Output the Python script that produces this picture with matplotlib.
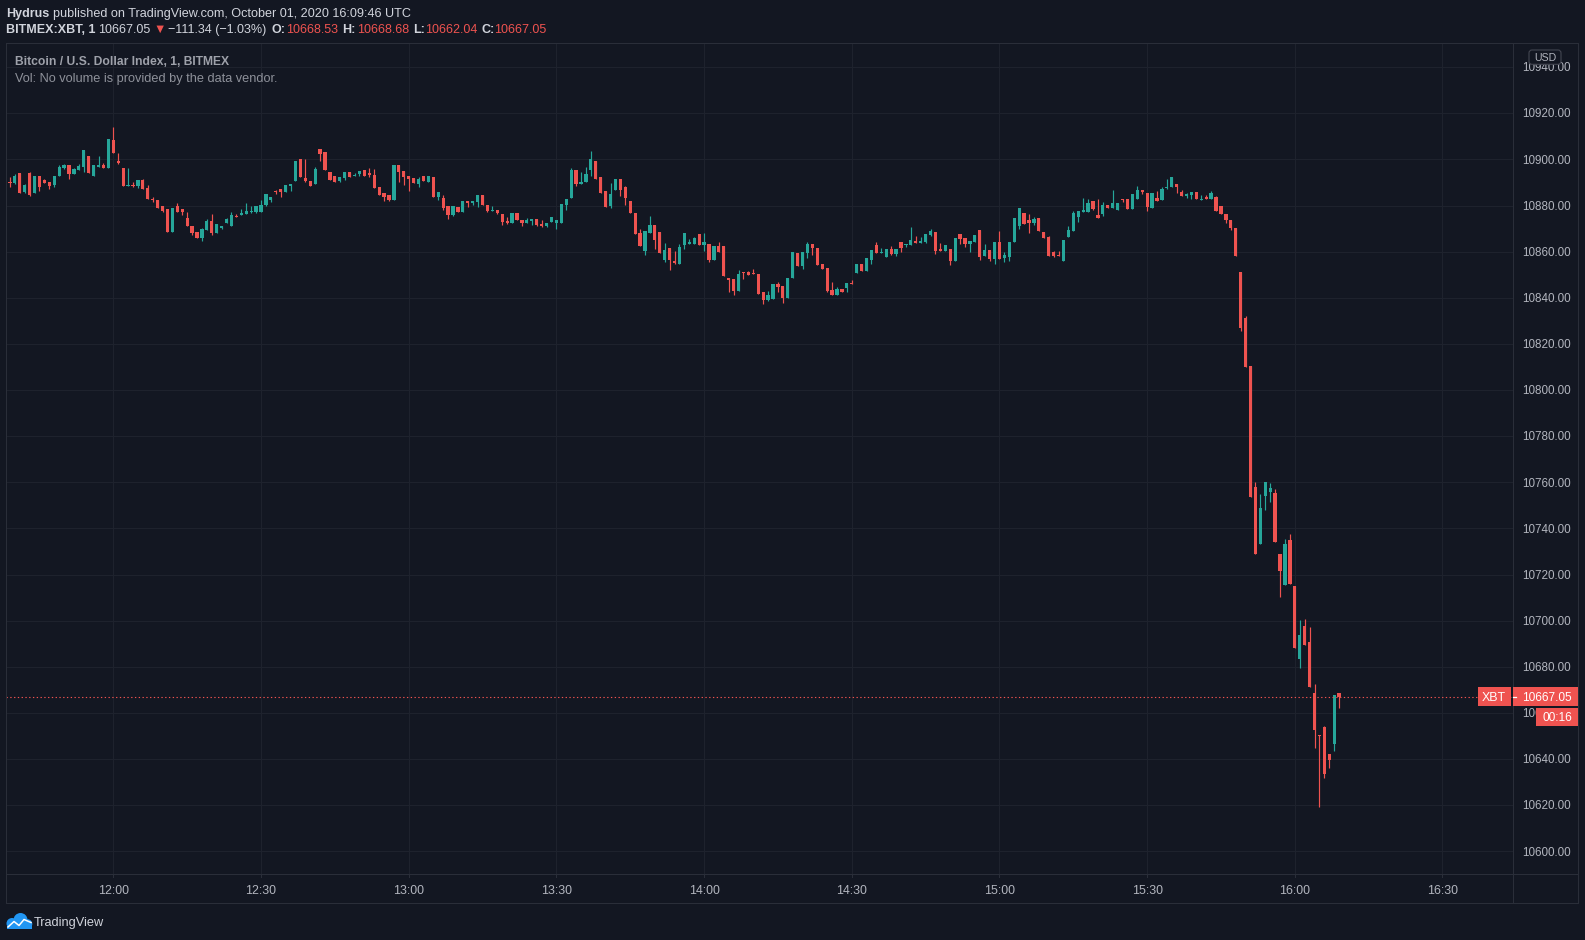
import matplotlib
matplotlib.use("Agg")
import matplotlib.pyplot as plt
import matplotlib.transforms as mtrans
from matplotlib.patches import FancyBboxPatch, Ellipse, Polygon, Rectangle
from matplotlib.lines import Line2D
import numpy as np

# ---------------- data (BITMEX:XBT 1-minute candles, 11:39 -> 16:09 UTC) ----------------
first_minute = -21          # first candle = 11:39 (minutes relative to 12:00)
opens = [
    10890.3, 10889.7, 10893.9, 10885.8, 10893.9, 10885.4, 10892.6, 10890.9, 10890.0, 10888.7,
    10892.6, 10896.1, 10897.4, 10893.5, 10895.2, 10896.5, 10901.7, 10893.0, 10896.5, 10897.4,
    10896.1, 10908.3, 10899.1, 10896.1, 10888.3, 10889.1, 10888.3, 10890.9, 10887.4, 10883.0,
    10882.6, 10879.6, 10878.3, 10868.7, 10880.0, 10878.3, 10874.8, 10871.3, 10868.7, 10866.1,
    10869.6, 10873.5, 10868.3, 10870.4, 10872.6, 10871.3, 10875.6, 10876.1, 10876.5, 10877.2,
    10877.4, 10877.4, 10880.4, 10882.6, 10886.1, 10887.0, 10885.7, 10888.3, 10890.5, 10900.1,
    10891.8, 10890.5, 10889.2, 10904.5, 10903.2, 10894.5, 10892.7, 10890.5, 10891.8, 10894.5,
    10892.7, 10893.6, 10895.3, 10894.0, 10893.1, 10887.9, 10885.3, 10884.4, 10882.6, 10897.5,
    10894.9, 10892.7, 10891.8, 10889.2, 10892.7, 10890.1, 10892.3, 10883.9, 10883.1, 10880.0,
    10876.1, 10879.3, 10877.1, 10881.9, 10881.0, 10881.4, 10884.5, 10880.1, 10877.5, 10878.0,
    10876.2, 10873.2, 10872.3, 10876.7, 10873.6, 10872.3, 10873.2, 10874.1, 10871.9, 10871.0,
    10872.8, 10872.3, 10872.3, 10880.1, 10883.2, 10895.4, 10889.3, 10890.1, 10895.4, 10899.3,
    10892.3, 10886.2, 10879.7, 10886.7, 10891.4, 10888.0, 10881.9, 10876.7, 10868.0, 10860.1,
    10868.0, 10871.4, 10868.4, 10856.2, 10861.4, 10855.8, 10854.5, 10862.7, 10863.5, 10863.5,
    10867.8, 10863.1, 10863.5, 10856.3, 10862.3, 10862.3, 10848.7, 10848.2, 10843.1, 10851.2,
    10851.2, 10850.8, 10850.4, 10842.3, 10838.9, 10839.3, 10846.1, 10845.2, 10839.7, 10848.7,
    10859.3, 10853.8, 10859.3, 10863.5, 10861.8, 10854.6, 10852.9, 10843.5, 10841.4, 10844.0,
    10844.4, 10846.5, 10850.8, 10854.6, 10851.6, 10856.3, 10863.1, 10859.3, 10857.6, 10861.0,
    10858.9, 10864.0, 10862.8, 10862.8, 10864.5, 10863.6, 10864.1, 10867.1, 10868.4, 10861.0,
    10860.1, 10861.0, 10855.8, 10867.5, 10865.8, 10863.2, 10864.1, 10869.3, 10858.0, 10860.6,
    10856.7, 10864.1, 10857.1, 10857.5, 10864.1, 10871.0, 10876.7, 10873.6, 10872.3, 10874.5,
    10868.4, 10866.2, 10859.7, 10858.4, 10855.8, 10866.2, 10868.8, 10874.9, 10877.1, 10877.1,
    10881.9, 10875.8, 10876.2, 10880.1, 10878.8, 10878.0, 10882.8, 10882.8, 10878.4, 10882.7,
    10886.6, 10885.3, 10878.8, 10883.2, 10882.3, 10887.5, 10887.9, 10889.2, 10885.8, 10884.0,
    10884.5, 10885.8, 10882.3, 10883.6, 10882.7, 10883.6, 10879.7, 10876.2, 10873.7, 10870.2,
    10851.1, 10831.2, 10810.4, 10758.0, 10733.3, 10754.1, 10755.8, 10755.4, 10729.0, 10715.6,
    10735.0, 10715.1, 10683.5, 10697.8, 10690.9, 10668.8, 10650.6, 10654.1, 10642.4, 10646.7,
    10668.53,
]
highs = [
    10892.2, 10893.5, 10894.0, 10889.5, 10894.4, 10892.6, 10892.6, 10891.3, 10890.0, 10893.0,
    10897.4, 10898.1, 10897.4, 10896.1, 10897.8, 10903.9, 10901.7, 10897.4, 10901.7, 10898.3,
    10908.7, 10913.9, 10902.6, 10896.1, 10896.1, 10890.0, 10890.9, 10891.7, 10889.1, 10883.6,
    10882.6, 10879.6, 10878.3, 10879.1, 10881.3, 10878.7, 10877.4, 10871.3, 10868.7, 10870.4,
    10874.3, 10876.5, 10872.2, 10871.3, 10874.5, 10877.4, 10876.5, 10878.7, 10880.9, 10880.0,
    10880.0, 10882.6, 10884.8, 10883.5, 10886.6, 10887.0, 10888.8, 10889.2, 10899.3, 10900.1,
    10900.1, 10890.5, 10896.6, 10904.5, 10903.2, 10894.5, 10892.7, 10892.3, 10894.5, 10894.5,
    10894.0, 10894.9, 10895.3, 10896.2, 10895.8, 10887.9, 10885.3, 10884.4, 10897.5, 10897.5,
    10894.9, 10892.7, 10891.8, 10892.3, 10892.7, 10892.7, 10892.3, 10885.7, 10884.4, 10880.0,
    10879.6, 10879.3, 10881.9, 10881.9, 10881.9, 10884.5, 10884.5, 10880.1, 10879.7, 10878.0,
    10876.2, 10874.9, 10876.7, 10876.7, 10873.6, 10874.5, 10874.1, 10874.1, 10873.6, 10872.3,
    10874.9, 10873.6, 10880.6, 10882.8, 10896.2, 10895.4, 10894.5, 10896.7, 10903.6, 10899.3,
    10892.3, 10886.2, 10889.7, 10891.4, 10891.4, 10888.4, 10881.9, 10876.7, 10869.7, 10868.8,
    10875.4, 10871.4, 10868.4, 10863.6, 10861.4, 10860.1, 10863.2, 10868.2, 10865.7, 10866.5,
    10867.8, 10868.2, 10863.5, 10862.3, 10864.0, 10862.3, 10848.7, 10848.2, 10852.1, 10851.2,
    10851.6, 10852.5, 10850.4, 10842.3, 10843.1, 10846.1, 10847.0, 10845.2, 10848.7, 10859.7,
    10859.3, 10859.7, 10864.0, 10863.5, 10861.8, 10854.6, 10852.9, 10847.0, 10844.8, 10844.0,
    10846.5, 10847.8, 10854.6, 10854.6, 10857.2, 10860.6, 10864.0, 10861.8, 10861.0, 10862.3,
    10861.0, 10864.0, 10863.2, 10870.6, 10866.7, 10866.2, 10867.5, 10869.7, 10868.4, 10863.6,
    10862.8, 10861.0, 10865.8, 10867.5, 10865.8, 10864.5, 10867.1, 10869.3, 10863.2, 10860.6,
    10864.1, 10868.8, 10859.7, 10864.1, 10874.5, 10878.8, 10876.7, 10876.2, 10874.9, 10874.5,
    10868.4, 10866.7, 10860.1, 10860.1, 10864.9, 10871.0, 10877.5, 10877.5, 10883.2, 10882.8,
    10881.9, 10882.8, 10881.4, 10880.1, 10886.7, 10881.0, 10882.8, 10882.8, 10884.9, 10888.4,
    10886.6, 10885.3, 10885.3, 10886.2, 10887.9, 10891.4, 10892.3, 10889.2, 10886.6, 10885.3,
    10885.8, 10885.8, 10884.5, 10884.5, 10886.2, 10884.0, 10879.7, 10876.2, 10873.7, 10870.2,
    10851.1, 10832.1, 10810.4, 10760.0, 10755.0, 10760.1, 10759.7, 10757.1, 10729.0, 10735.5,
    10737.6, 10715.1, 10700.4, 10700.8, 10697.4, 10672.7, 10650.6, 10654.5, 10642.4, 10667.9,
    10668.68,
]
lows = [
    10888.0, 10889.4, 10885.4, 10885.6, 10884.3, 10885.4, 10886.3, 10889.7, 10887.0, 10888.0,
    10892.6, 10895.7, 10891.3, 10893.5, 10895.2, 10894.4, 10893.9, 10893.0, 10896.5, 10896.1,
    10896.1, 10902.6, 10897.8, 10888.3, 10888.3, 10887.9, 10887.5, 10887.0, 10882.8, 10881.5,
    10879.1, 10877.4, 10868.7, 10868.7, 10877.4, 10876.1, 10871.3, 10867.4, 10866.1, 10864.8,
    10869.6, 10867.4, 10868.3, 10869.9, 10872.6, 10871.3, 10875.2, 10876.1, 10876.5, 10876.9,
    10876.9, 10877.4, 10879.6, 10881.7, 10884.8, 10883.9, 10885.7, 10886.1, 10890.5, 10892.3,
    10890.1, 10888.3, 10889.2, 10899.3, 10895.3, 10891.0, 10890.1, 10890.1, 10891.0, 10892.3,
    10892.7, 10892.7, 10892.7, 10892.3, 10887.4, 10884.4, 10881.8, 10881.8, 10882.6, 10890.1,
    10888.8, 10886.1, 10889.6, 10887.9, 10890.5, 10890.1, 10883.5, 10882.2, 10878.2, 10874.3,
    10875.5, 10877.1, 10877.1, 10879.3, 10880.1, 10879.3, 10880.1, 10877.1, 10877.5, 10876.2,
    10871.4, 10871.9, 10872.3, 10873.6, 10871.0, 10872.3, 10871.4, 10871.0, 10870.6, 10870.6,
    10872.8, 10869.7, 10872.3, 10878.0, 10883.2, 10888.4, 10889.3, 10890.1, 10892.8, 10891.4,
    10885.4, 10879.3, 10878.8, 10886.7, 10884.1, 10880.1, 10876.7, 10867.5, 10862.3, 10858.4,
    10868.0, 10861.0, 10859.3, 10855.4, 10851.9, 10854.5, 10854.5, 10861.0, 10863.5, 10863.5,
    10863.1, 10860.1, 10855.5, 10856.3, 10859.7, 10849.5, 10842.7, 10841.0, 10843.1, 10848.2,
    10849.9, 10850.4, 10841.8, 10837.2, 10838.5, 10839.3, 10842.3, 10837.6, 10839.7, 10848.7,
    10853.8, 10852.5, 10857.2, 10858.4, 10854.2, 10852.5, 10842.7, 10841.4, 10841.4, 10842.3,
    10842.7, 10846.1, 10850.8, 10851.6, 10851.6, 10854.6, 10859.3, 10859.3, 10857.6, 10858.4,
    10858.0, 10859.7, 10861.9, 10862.8, 10863.6, 10863.6, 10863.6, 10866.7, 10858.8, 10860.1,
    10860.1, 10854.1, 10855.8, 10863.2, 10861.9, 10859.7, 10864.1, 10856.2, 10858.0, 10855.8,
    10854.5, 10856.7, 10855.4, 10855.8, 10864.1, 10869.7, 10871.9, 10868.0, 10871.4, 10868.8,
    10865.8, 10858.0, 10857.5, 10858.0, 10855.8, 10866.2, 10868.8, 10872.8, 10877.1, 10877.1,
    10878.0, 10874.5, 10875.4, 10878.8, 10878.8, 10878.0, 10881.4, 10878.4, 10878.4, 10882.7,
    10884.9, 10877.5, 10878.8, 10881.9, 10882.3, 10887.1, 10887.9, 10885.3, 10884.0, 10883.2,
    10882.7, 10882.7, 10882.3, 10882.7, 10882.7, 10877.5, 10876.2, 10872.4, 10869.3, 10858.1,
    10825.6, 10810.0, 10753.7, 10729.1, 10733.3, 10748.2, 10751.5, 10734.2, 10710.4, 10715.6,
    10716.0, 10688.3, 10679.6, 10689.6, 10671.4, 10644.6, 10619.0, 10631.6, 10636.3, 10643.3,
    10662.04,
]
closes = [
    10889.7, 10893.0, 10885.4, 10889.1, 10884.5, 10892.6, 10888.0, 10889.7, 10888.4, 10893.0,
    10896.5, 10897.4, 10893.5, 10895.7, 10897.0, 10903.9, 10893.9, 10897.4, 10897.4, 10896.1,
    10908.7, 10902.6, 10898.3, 10888.3, 10889.1, 10888.3, 10890.9, 10887.0, 10882.8, 10882.2,
    10879.1, 10877.8, 10868.7, 10879.1, 10877.4, 10877.4, 10871.3, 10868.3, 10866.1, 10870.0,
    10873.5, 10868.3, 10872.2, 10871.3, 10874.3, 10876.1, 10875.2, 10876.9, 10877.8, 10877.8,
    10880.0, 10880.4, 10884.8, 10883.5, 10885.7, 10885.7, 10888.8, 10889.2, 10899.3, 10892.3,
    10890.5, 10888.3, 10895.8, 10902.3, 10895.3, 10891.0, 10890.1, 10892.3, 10894.5, 10892.3,
    10893.1, 10894.9, 10892.7, 10893.1, 10887.4, 10884.4, 10883.9, 10882.6, 10897.5, 10894.5,
    10892.3, 10891.4, 10889.6, 10891.4, 10890.5, 10892.7, 10883.5, 10885.7, 10879.1, 10876.1,
    10879.6, 10877.1, 10881.9, 10881.0, 10881.9, 10884.5, 10880.1, 10877.5, 10878.0, 10876.7,
    10872.8, 10872.3, 10876.7, 10873.6, 10872.3, 10873.6, 10874.1, 10871.4, 10871.0, 10872.3,
    10874.9, 10873.6, 10880.6, 10882.8, 10895.4, 10889.3, 10890.1, 10893.6, 10900.1, 10891.4,
    10885.4, 10879.3, 10884.9, 10891.4, 10886.7, 10883.2, 10876.7, 10867.5, 10862.3, 10868.8,
    10871.4, 10864.9, 10859.3, 10860.6, 10856.2, 10854.9, 10861.9, 10868.2, 10864.0, 10866.1,
    10863.1, 10864.4, 10856.3, 10862.3, 10859.7, 10849.5, 10847.8, 10843.1, 10850.4, 10850.8,
    10849.9, 10850.4, 10841.8, 10838.9, 10841.0, 10846.1, 10844.8, 10839.7, 10848.7, 10859.7,
    10853.8, 10859.7, 10863.5, 10861.4, 10854.2, 10852.5, 10843.1, 10841.4, 10844.0, 10842.3,
    10846.5, 10846.1, 10854.6, 10851.6, 10857.2, 10860.6, 10859.3, 10859.7, 10861.0, 10858.9,
    10861.0, 10861.8, 10863.2, 10864.9, 10863.6, 10864.5, 10867.5, 10868.8, 10860.1, 10860.1,
    10862.8, 10855.8, 10865.8, 10865.4, 10863.2, 10864.5, 10867.1, 10857.5, 10860.6, 10856.7,
    10864.1, 10856.7, 10858.4, 10864.1, 10874.5, 10878.8, 10871.9, 10872.3, 10874.1, 10868.8,
    10865.8, 10858.0, 10858.0, 10858.0, 10864.9, 10869.3, 10876.7, 10877.5, 10878.0, 10881.0,
    10878.4, 10874.5, 10880.1, 10878.8, 10881.0, 10881.0, 10882.3, 10878.4, 10884.9, 10886.6,
    10885.8, 10879.3, 10885.3, 10881.9, 10887.1, 10887.9, 10892.3, 10887.9, 10884.0, 10884.9,
    10885.8, 10882.7, 10882.7, 10882.7, 10885.3, 10877.5, 10876.2, 10873.7, 10870.2, 10858.1,
    10826.9, 10810.0, 10753.7, 10729.1, 10748.9, 10760.1, 10757.6, 10734.2, 10721.6, 10733.3,
    10716.0, 10688.3, 10693.9, 10689.6, 10671.4, 10652.4, 10649.8, 10633.4, 10639.4, 10667.9,
    10667.05,
]
assert len(opens) == len(highs) == len(lows) == len(closes)

price_ticks = list(range(10600, 10941, 20))
time_ticks = [0, 30, 60, 90, 120, 150, 180, 210, 240, 270]
time_labels = ["12:00", "12:30", "13:00", "13:30", "14:00", "14:30",
               "15:00", "15:30", "16:00", "16:30"]
last_price = 10667.05
countdown = "00:16"
symbol = "XBT"

# ---------------- style ----------------
W, H = 1585, 940
BG = '#131722'
GRID = '#1e222d'
FRAME = '#2a2e39'
TXT = '#b2b5be'
HEAD = '#d1d4dc'
UP = '#26a69a'
DN = '#ef5350'
FONT = ['Liberation Sans', 'DejaVu Sans']
plt.rcParams['font.family'] = FONT

fig = plt.figure(figsize=(W / 100, H / 100), dpi=100, facecolor=BG)
ID = mtrans.IdentityTransform()


def P(x, y):
    return (x, H - y)


def hline(x0, x1, y, color=FRAME, lw=0.75, z=20):
    fig.add_artist(Line2D([x0, x1], [H - y, H - y], transform=ID, color=color, lw=lw, zorder=z))


def vline(x, y0, y1, color=FRAME, lw=0.75, z=20):
    fig.add_artist(Line2D([x, x], [H - y0, H - y1], transform=ID, color=color, lw=lw, zorder=z))


def box(x0, y0, x1, y1, fc, ec='none', r=0.0, lw=0.0, z=30):
    style = "round,pad=0,rounding_size=%g" % r if r > 0 else "square,pad=0"
    fig.add_artist(FancyBboxPatch((x0, H - y1), x1 - x0, y1 - y0, boxstyle=style,
                                  fc=fc, ec=ec, lw=lw, transform=ID, zorder=z))


def ftext(x, y, s, **kw):
    kw.setdefault('va', 'baseline')
    kw.setdefault('ha', 'left')
    return fig.text(x, H - y, s, transform=ID, **kw)


PL, PR, PT, PB = 6.0, 1512.7, 43.3, 874.3
ax = fig.add_axes([PL / W, 1 - PB / H, (PR - PL) / W, (PB - PT) / H])
ax.set_facecolor(BG)
ax.set_xlim(-21.8, 284.26)
ax.set_ylim(10590.03, 10950.35)
for s in ax.spines.values():
    s.set_visible(False)
ax.set_xticks([])
ax.set_yticks([])

for v in price_ticks:
    ax.axhline(v, color=GRID, lw=0.75, zorder=0)
for m in time_ticks:
    ax.axvline(m, color=GRID, lw=0.75, zorder=0)

# candles
o = np.array(opens); h = np.array(highs); l = np.array(lows); c = np.array(closes)
t = np.arange(len(o)) + first_minute
cols = np.where(c >= o, UP, DN)
ax.vlines(t, l, h, colors=cols, lw=0.85, zorder=2)
ax.bar(t, np.maximum(np.abs(c - o), 0.45), bottom=np.minimum(o, c), width=0.66,
       color=cols, lw=0, zorder=3)

# last price dotted line
ax.axhline(last_price, color=DN, lw=0.8, ls=(0, (1.2, 2.2)), zorder=4)

# ---------------- frame ----------------
hline(PL, 1578, PT)
hline(PL, 1578, PB)
hline(PL, 1578, 903.3)
vline(PL, PT, 903.3)
vline(PR, PT, 903.3)
vline(1578, PT, 903.3)

# time axis ticks + labels
tx = mtrans.blended_transform_factory(ax.transData, ID)
for m, lab in zip(time_ticks, time_labels):
    fig.add_artist(Line2D([m, m], [H - PB, H - PB - 3], transform=tx, color=FRAME, lw=0.75))
    fig.text(m, H - 894, lab, transform=tx, ha='center', va='baseline',
             color=TXT, fontsize=8.9)

# price labels (the tag boxes cover part of some, as in the original)
yp = 113.3 + (10920 - last_price) * 2.30625
ty = mtrans.blended_transform_factory(ID, ax.transData) + \
    mtrans.ScaledTranslation(0, -4.2 / 100, fig.dpi_scale_trans)
for v in price_ticks:
    tt = fig.text(1522, v, "%.2f" % v, transform=ty, ha='left', va='baseline',
                  color=TXT, fontsize=8.4)
    vy = 113.3 + (10920 - v) * 2.30625
    if yp + 5 < vy < yp + 32:
        clip = Rectangle((1518, H - (yp + 40)), 1535.5 - 1518, 40, transform=ID)
        tt.set_clip_path(clip)

# USD badge
box(1529, 50, 1561, 64.3, fc=BG, ec='#434651', r=3, lw=0.8, z=31)
ftext(1545, 61, "USD", ha='center', color=TXT, fontsize=7.6, zorder=32)

# last price tags
box(1477.7, yp - 9.7, 1510.7, yp + 9.7, fc=DN, z=31)
ftext(1494.2, yp + 4.2, symbol, ha='center', color='white', fontsize=8.9, zorder=33)
box(1512.5, yp - 9.7, 1578, yp + 9.7, fc=DN, z=31)
hline(1512.7, 1516, yp, color='white', lw=0.9, z=33)
ftext(1522, yp + 4.2, "%.2f" % last_price, color='white', fontsize=8.6, zorder=33)
box(1536, yp + 11, 1578, yp + 29.3, fc=DN, z=31)
ftext(1557, yp + 24.4, countdown, ha='center', color='white', fontsize=8.6, zorder=33)

# ---------------- header ----------------
HS = 9.0
ftext(6.4, 17.3, "Hydrus", color=HEAD, fontsize=HS, fontweight='bold')
ftext(53, 17.3, "published on TradingView.com, October 01, 2020 16:09:46 UTC",
      color=HEAD, fontsize=9.1)
pieces = [
    (6.4, "BITMEX:XBT, 1", HEAD, 'bold'),
    (98, "10667.05", HEAD, 'normal'),
    (153, "\u25BC", DN, 'normal'),
    (168, "\u2212111.34 (\u22121.03%)", HEAD, 'normal'),
    (272, "O:", HEAD, 'bold'),
    (286, "10668.53", DN, 'normal'),
    (342, "H:", HEAD, 'bold'),
    (357, "10668.68", DN, 'normal'),
    (413, "L:", HEAD, 'bold'),
    (425, "10662.04", DN, 'normal'),
    (482, "C:", HEAD, 'bold'),
    (494, "10667.05", DN, 'normal'),
]
for x, s, col, wt in pieces:
    ftext(x, 33.3, s, color=col, fontsize=HS, fontweight=wt)

ftext(15.4, 65, "Bitcoin / U.S. Dollar Index, 1, BITMEX", color='#9ea1aa',
      fontsize=8.7, fontweight='bold')
ftext(15.4, 81.7, "Vol: No volume is provided by the data vendor.", color='#8e919a',
      fontsize=9.2)

# ---------------- TradingView logo ----------------
BLUE = '#2196f3'
for (cx, cy, r) in [(12.0, 923.5, 5.5), (20.5, 920.0, 7.0), (27.5, 924.0, 4.8)]:
    fig.add_artist(Ellipse(P(cx, cy), 2 * r, 2 * r, transform=ID, fc=BLUE, ec='none', zorder=40))
fig.add_artist(Polygon([P(7, 923.5), P(32, 923.5), P(32, 928.8), P(7, 928.8)],
                       closed=True, transform=ID, fc=BLUE, ec='none', zorder=40))
fig.add_artist(Line2D([8, 14, 19, 24, 31], [H - 927, H - 921.5, H - 925.5, H - 919.5, H - 922.5],
                      transform=ID, color='white', lw=1.1, zorder=41))
ftext(34, 925.7, "TradingView", color=HEAD, fontsize=9.2, zorder=41)

fig.savefig("out.png", dpi=100, facecolor=BG)
